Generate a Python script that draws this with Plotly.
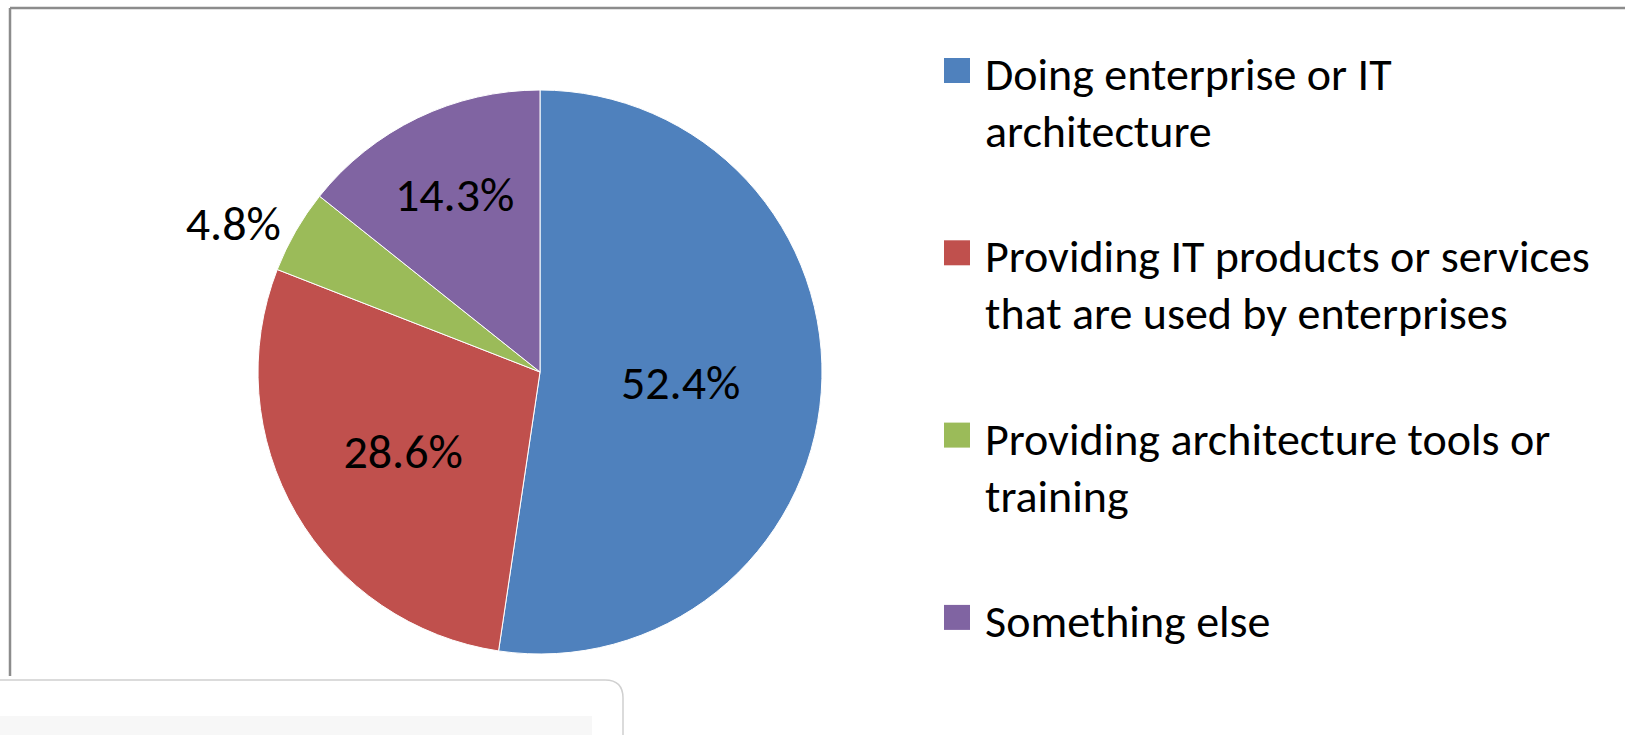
import plotly.graph_objects as go

# ---- data ----
categories = [
    "Doing enterprise or IT<br>architecture",
    "Providing IT products or services<br>that are used by enterprises",
    "Providing architecture tools or<br>training",
    "Something else",
]
shares = [52.4, 28.6, 4.8, 14.3]
colors = ["#4F81BD", "#C0504D", "#9BBB59", "#8064A2"]
label_positions = ["inside", "inside", "outside", "inside"]

W, H = 1625, 735


def px(x):
    return x / W


def py(y):
    return 1 - y / H


FONT = "Calibri, Carlito, Lato, sans-serif"

fig = go.Figure()
fig.add_trace(go.Pie(
    labels=[c.replace("<br>", " ") for c in categories],
    values=shares,
    sort=False,
    direction="clockwise",
    rotation=0,
    marker=dict(colors=colors, line=dict(color="white", width=1)),
    texttemplate="%{value:.1f}%",
    textposition=label_positions,
    insidetextorientation="horizontal",
    textfont=dict(family=FONT, size=48, color="black"),
    insidetextfont=dict(family=FONT, size=48, color="black"),
    outsidetextfont=dict(family=FONT, size=48, color="black"),
    domain=dict(x=[px(540 - 282), px(540 + 282)], y=[py(372 + 282), py(372 - 282)]),
    showlegend=False,
    hoverinfo="label+percent",
))

shapes = []
annotations = []

# chart frame (top and left edges visible)
shapes.append(dict(type="line", xref="paper", yref="paper", x0=px(10), y0=py(8), x1=px(W + 5), y1=py(8),
                   line=dict(color="#8c8c8c", width=2.5)))
shapes.append(dict(type="line", xref="paper", yref="paper", x0=px(10), y0=py(8), x1=px(10), y1=py(676),
                   line=dict(color="#8c8c8c", width=2.5)))

# legend (manually laid out to match large swatches)
leg_x_box = 944
leg_x_text = 983
leg_top = 58
leg_step = 182.3
span_open = '<span style="font-size:46px">'
for i, (cat, col) in enumerate(zip(categories, colors)):
    top = leg_top + i * leg_step
    shapes.append(dict(type="rect", xref="paper", yref="paper",
                       x0=px(leg_x_box), x1=px(leg_x_box + 26), y0=py(top), y1=py(top + 25),
                       fillcolor=col, line=dict(width=0)))
    annotations.append(dict(
        xref="paper", yref="paper", x=px(leg_x_text), y=py(top - 14),
        xanchor="left", yanchor="top", align="left", showarrow=False,
        text=span_open + cat.replace("<br>", "</span><br>" + span_open) + "</span>",
        font=dict(family=FONT, size=44.2, color="black"),
    ))

# overlay box at bottom-left (screen artifact in the source)
r = 18
bx = 623
path = (f"M {px(-5)},{py(680)} L {px(bx - r)},{py(680)} "
        f"Q {px(bx)},{py(680)} {px(bx)},{py(680 + r)} L {px(bx)},{py(745)} L {px(-5)},{py(745)} Z")
shapes.append(dict(type="path", xref="paper", yref="paper", path=path,
                   fillcolor="white", line=dict(color="#d0d0d0", width=1.5)))
shapes.append(dict(type="rect", xref="paper", yref="paper", x0=px(0), x1=px(592), y0=py(716), y1=py(740),
                   fillcolor="#f7f7f7", line=dict(width=0)))

fig.update_layout(
    width=W, height=H,
    margin=dict(l=0, r=0, t=0, b=0),
    paper_bgcolor="white",
    plot_bgcolor="white",
    shapes=shapes,
    annotations=annotations,
    showlegend=False,
)

fig.write_html(
    "out.html",
    config={"displayModeBar": False},
    post_script="document.body.style.margin='0';document.body.style.overflow='hidden';",
)
